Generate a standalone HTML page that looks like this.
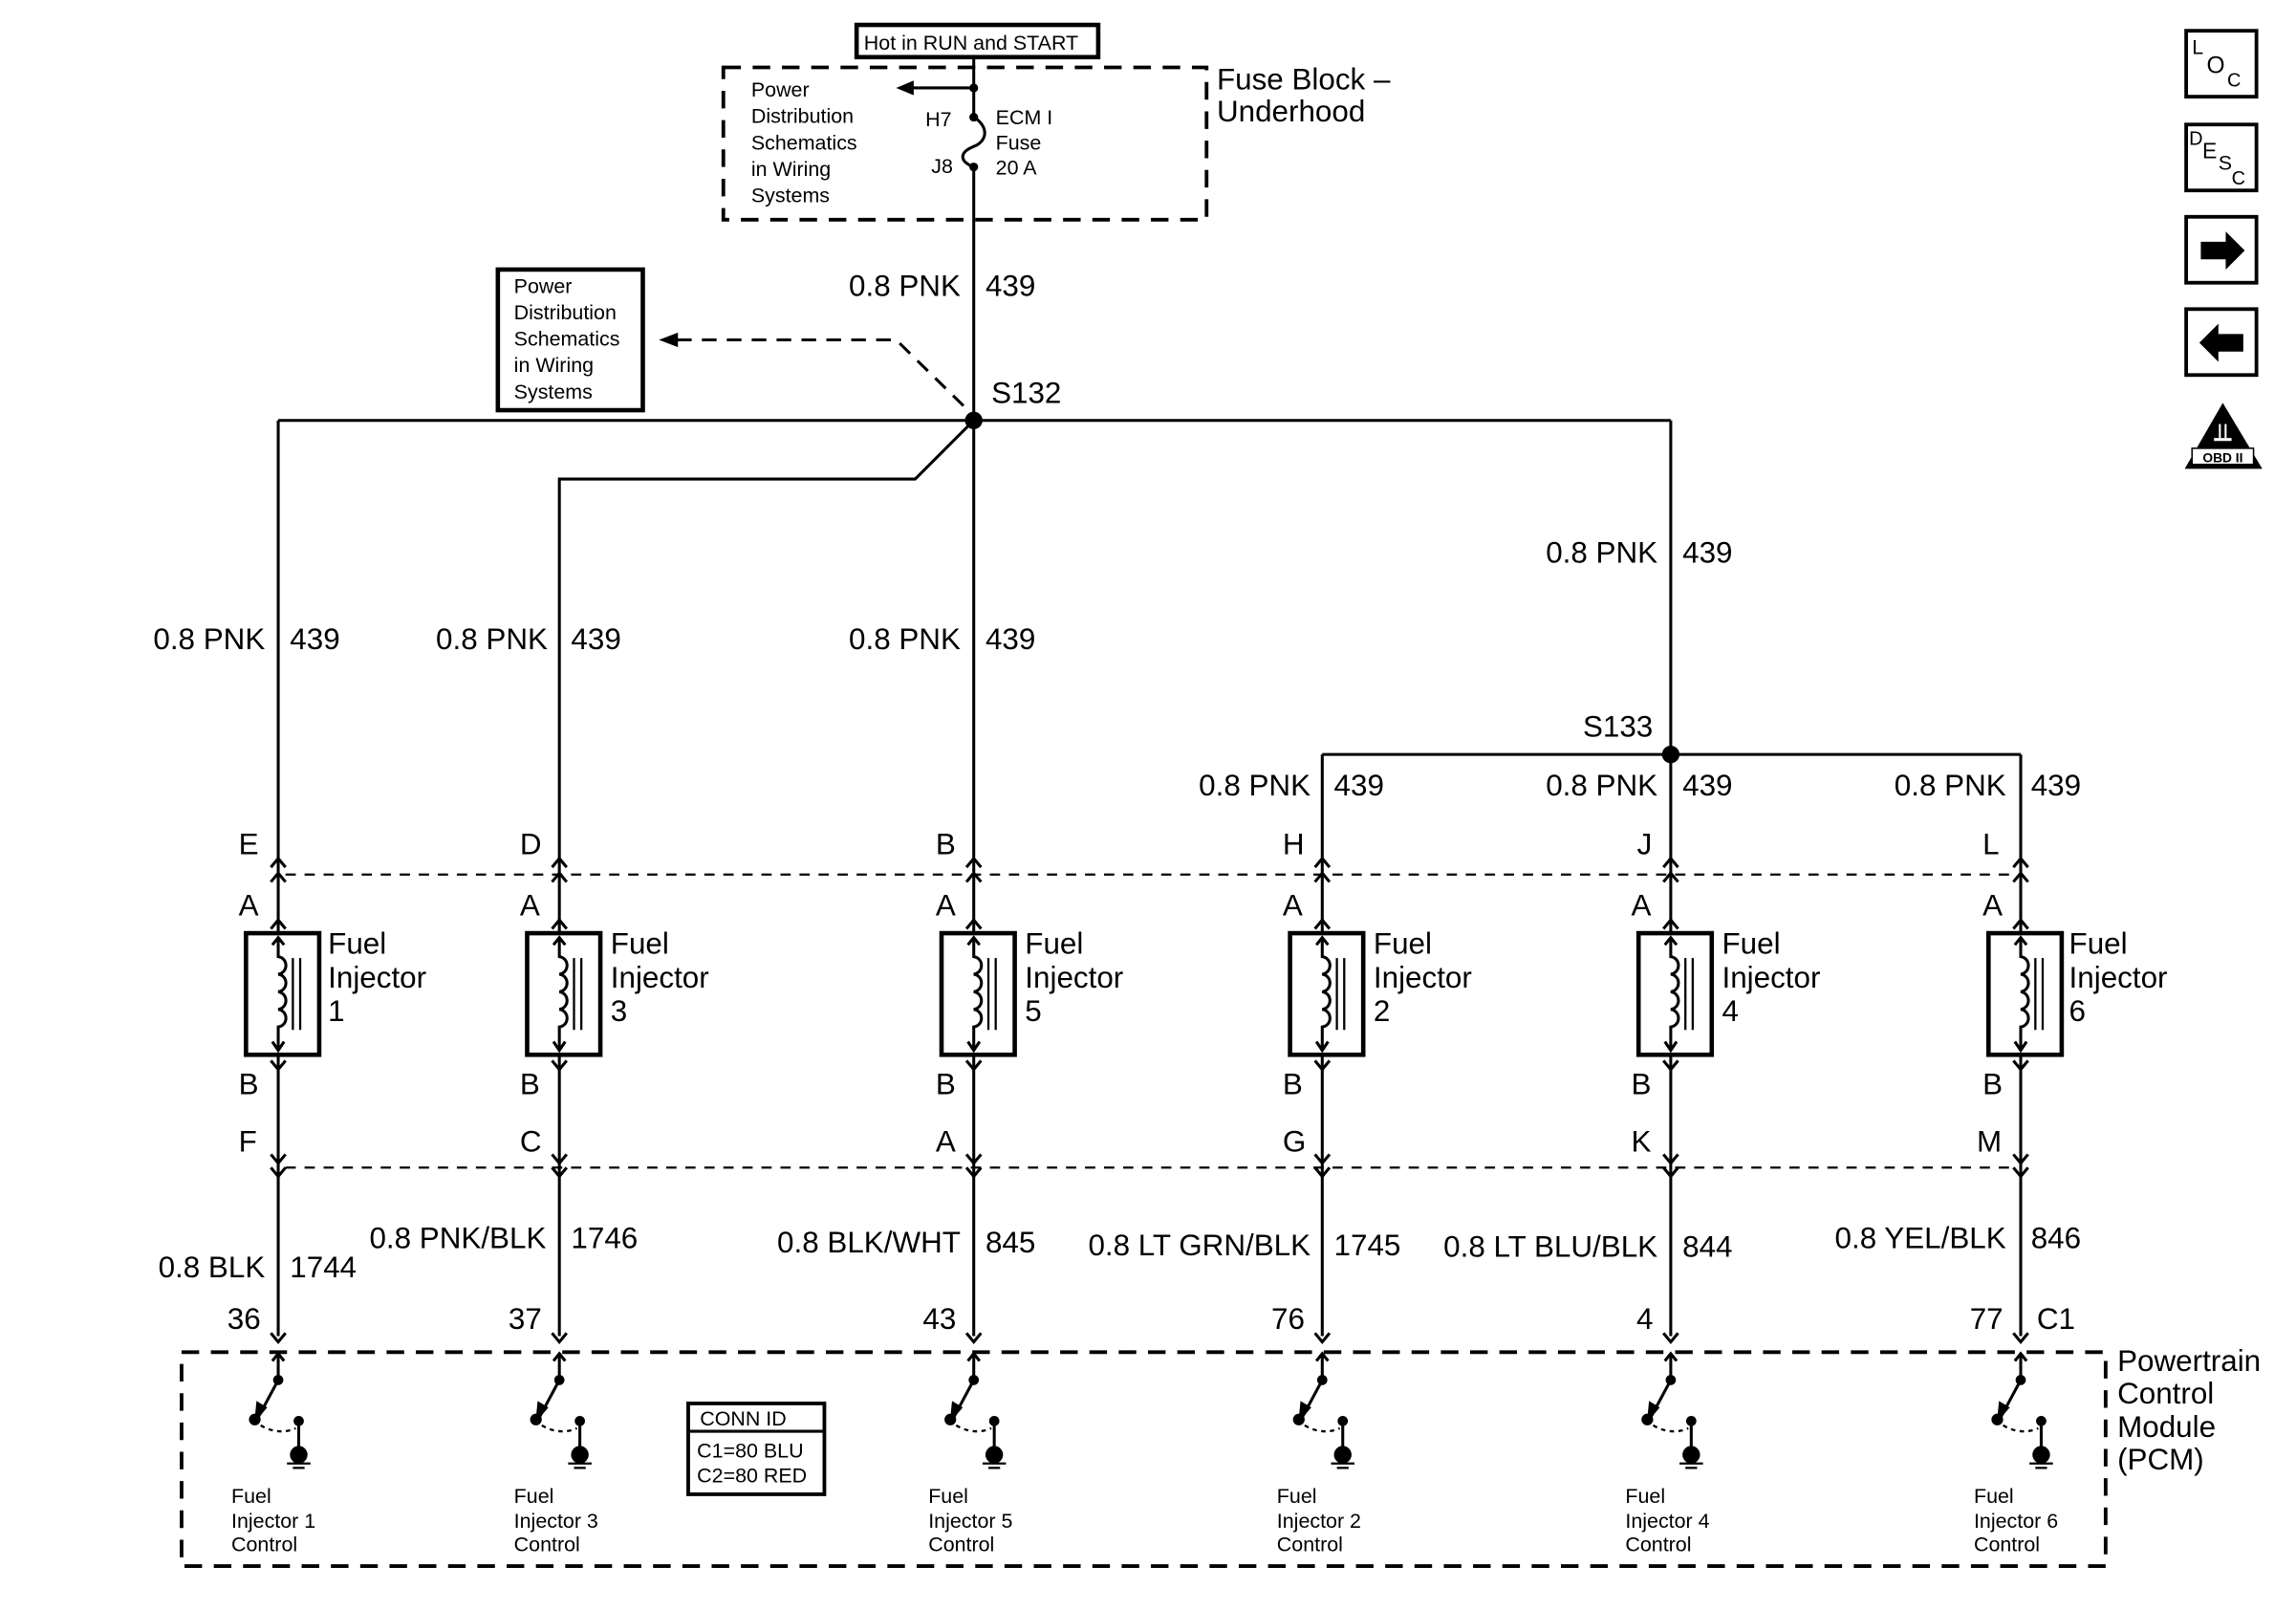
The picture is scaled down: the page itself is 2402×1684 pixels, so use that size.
<!DOCTYPE html>
<html><head><meta charset="utf-8"><style>
html,body{margin:0;padding:0;background:#fff;}
svg{display:block;}
text{font-family:"Liberation Sans",Arial,sans-serif;fill:#000;}
.w{font-size:20.5px;}
.s{font-size:14px;}
</style></head><body>
<svg id="sv" width="2402" height="1684" viewBox="0 0 1568 1099" preserveAspectRatio="none" xmlns="http://www.w3.org/2000/svg">
<rect width="1568" height="1099" fill="#fff"/>
<g id="shapes" stroke="#000" fill="none" stroke-width="2">
<rect x="585" y="17" width="165" height="22" stroke-width="3"/>
<rect x="494" y="46" width="330" height="104" stroke-dasharray="12,8" stroke-width="2.5"/>
<line x1="665" y1="39" x2="665" y2="80"/>
<path d="M665 80 C675 86,675 96,665 100 C655 104,655 110,665 114"/>
<line x1="665" y1="114" x2="665" y2="912"/>
<line x1="665" y1="60" x2="620" y2="60"/>
<rect x="340" y="184" width="99" height="96" stroke-width="3"/>
<path d="M658 277 L612 232 L462 232" stroke-dasharray="10,7"/>
<line x1="190" y1="287" x2="1141" y2="287"/>
<line x1="190" y1="287" x2="190" y2="912"/>
<path d="M665 287 L625 327 L382 327 L382 912"/>
<line x1="1141" y1="287" x2="1141" y2="912"/>
<line x1="903" y1="515" x2="1380" y2="515"/>
<line x1="903" y1="515" x2="903" y2="912"/>
<line x1="1380" y1="515" x2="1380" y2="912"/>
<line x1="195" y1="597" x2="1375" y2="597" stroke-dasharray="7,6" stroke-width="1.5"/>
<line x1="195" y1="797" x2="1375" y2="797" stroke-dasharray="7,6" stroke-width="1.5"/>
<rect x="124" y="923" width="1314" height="146" stroke-dasharray="12,8" stroke-width="2.5"/>
<rect x="470" y="958" width="93" height="62" stroke-width="2.5"/>
<line x1="470" y1="977" x2="563" y2="977"/>
<rect x="1493" y="21" width="48" height="45" stroke-width="2.5"/>
<rect x="1493" y="85" width="48" height="45" stroke-width="2.5"/>
<rect x="1493" y="148" width="48" height="45" stroke-width="2.5"/>
<rect x="1493" y="211" width="48" height="45" stroke-width="2.5"/>
</g>
<g fill="#000">
<polygon points="612,60 624,55 624,65"/>
<circle cx="665" cy="60" r="3"/><circle cx="665" cy="80" r="3"/><circle cx="665" cy="114" r="3"/>
<polygon points="450,232 463,227 463,237"/>
<circle cx="665" cy="287" r="6"/>
<circle cx="1141" cy="515" r="6"/>
<polygon points="1503,165 1520,165 1520,158 1533,171 1520,184 1520,177 1503,177"/>
<polygon points="1532,228 1515,228 1515,221 1502,234 1515,247 1515,240 1532,240"/>
<polygon points="1518,275 1545,320 1492,320"/>
</g>
<rect x="1497" y="306" width="42" height="11" fill="#fff" stroke="#000" stroke-width="1"/>
<text x="1518" y="315.5" text-anchor="middle" style="font-size:9px;font-weight:bold">OBD II</text>
<line x1="1512" y1="300" x2="1524" y2="300" stroke="#fff" stroke-width="2"/>
<text x="1518" y="299" text-anchor="middle" style="font-size:14px;fill:#fff">II</text>
<g id="reps" stroke="#000" fill="none" stroke-width="2"></g>

<text x="590" y="34" style="font-size:14px">Hot in RUN and START</text>
<text x="831" y="61" style="font-size:20.5px">Fuse Block –</text>
<text x="831" y="83" style="font-size:20.5px">Underhood</text>
<g class="s">
<text x="513" y="66">Power</text><text x="513" y="84">Distribution</text><text x="513" y="102">Schematics</text><text x="513" y="120">in Wiring</text><text x="513" y="138">Systems</text>
<text x="632" y="86">H7</text><text x="636" y="118">J8</text>
<text x="680" y="85">ECM I</text><text x="680" y="102">Fuse</text><text x="680" y="119">20 A</text>
<text x="351" y="200">Power</text><text x="351" y="218">Distribution</text><text x="351" y="236">Schematics</text><text x="351" y="254">in Wiring</text><text x="351" y="272">Systems</text>
<text x="478" y="973">CONN ID</text><text x="476" y="995">C1=80 BLU</text><text x="476" y="1012">C2=80 RED</text>
</g>
<g class="w">
<text x="656" y="202" text-anchor="end">0.8 PNK</text><text x="673" y="202">439</text>
<text x="677" y="275">S132</text>
<text x="181" y="443" text-anchor="end">0.8 PNK</text><text x="198" y="443">439</text>
<text x="374" y="443" text-anchor="end">0.8 PNK</text><text x="390" y="443">439</text>
<text x="656" y="443" text-anchor="end">0.8 PNK</text><text x="673" y="443">439</text>
<text x="1132" y="384" text-anchor="end">0.8 PNK</text><text x="1149" y="384">439</text>
<text x="1081" y="503">S133</text>
<text x="895" y="543" text-anchor="end">0.8 PNK</text><text x="911" y="543">439</text>
<text x="1132" y="543" text-anchor="end">0.8 PNK</text><text x="1149" y="543">439</text>
<text x="1370" y="543" text-anchor="end">0.8 PNK</text><text x="1387" y="543">439</text>
<text x="163" y="583">E</text><text x="355" y="583">D</text><text x="639" y="583">B</text><text x="876" y="583">H</text><text x="1118" y="583">J</text><text x="1354" y="583">L</text>
<text x="163" y="625">A</text><text x="355" y="625">A</text><text x="639" y="625">A</text><text x="876" y="625">A</text><text x="1114" y="625">A</text><text x="1354" y="625">A</text>
<text x="163" y="747">B</text><text x="355" y="747">B</text><text x="639" y="747">B</text><text x="876" y="747">B</text><text x="1114" y="747">B</text><text x="1354" y="747">B</text>
<text x="163" y="786">F</text><text x="355" y="786">C</text><text x="639" y="786">A</text><text x="876" y="786">G</text><text x="1114" y="786">K</text><text x="1350" y="786">M</text>
<text x="181" y="872" text-anchor="end">0.8 BLK</text><text x="198" y="872">1744</text>
<text x="373" y="852" text-anchor="end">0.8 PNK/BLK</text><text x="390" y="852">1746</text>
<text x="656" y="855" text-anchor="end">0.8 BLK/WHT</text><text x="673" y="855">845</text>
<text x="895" y="857" text-anchor="end">0.8 LT GRN/BLK</text><text x="911" y="857">1745</text>
<text x="1132" y="858" text-anchor="end">0.8 LT BLU/BLK</text><text x="1149" y="858">844</text>
<text x="1370" y="852" text-anchor="end">0.8 YEL/BLK</text><text x="1387" y="852">846</text>
<text x="178" y="907" text-anchor="end">36</text><text x="370" y="907" text-anchor="end">37</text><text x="653" y="907" text-anchor="end">43</text><text x="891" y="907" text-anchor="end">76</text><text x="1129" y="907" text-anchor="end">4</text><text x="1368" y="907" text-anchor="end">77</text>
<text x="1391" y="907">C1</text>
<text x="1446" y="936">Powertrain</text><text x="1446" y="958">Control</text><text x="1446" y="981">Module</text><text x="1446" y="1003">(PCM)</text>
<text x="224" y="651">Fuel</text><text x="224" y="674">Injector</text><text x="224" y="697">1</text>
<text x="417" y="651">Fuel</text><text x="417" y="674">Injector</text><text x="417" y="697">3</text>
<text x="700" y="651">Fuel</text><text x="700" y="674">Injector</text><text x="700" y="697">5</text>
<text x="938" y="651">Fuel</text><text x="938" y="674">Injector</text><text x="938" y="697">2</text>
<text x="1176" y="651">Fuel</text><text x="1176" y="674">Injector</text><text x="1176" y="697">4</text>
<text x="1413" y="651">Fuel</text><text x="1413" y="674">Injector</text><text x="1413" y="697">6</text>
</g>
<g class="s">
<text x="158" y="1026">Fuel</text><text x="158" y="1043">Injector 1</text><text x="158" y="1059">Control</text>
<text x="351" y="1026">Fuel</text><text x="351" y="1043">Injector 3</text><text x="351" y="1059">Control</text>
<text x="634" y="1026">Fuel</text><text x="634" y="1043">Injector 5</text><text x="634" y="1059">Control</text>
<text x="872" y="1026">Fuel</text><text x="872" y="1043">Injector 2</text><text x="872" y="1059">Control</text>
<text x="1110" y="1026">Fuel</text><text x="1110" y="1043">Injector 4</text><text x="1110" y="1059">Control</text>
<text x="1348" y="1026">Fuel</text><text x="1348" y="1043">Injector 6</text><text x="1348" y="1059">Control</text>
</g>
<text x="1497" y="37" style="font-size:14px">L</text><text x="1507" y="50" style="font-size:16px">O</text><text x="1521" y="59" style="font-size:13px">C</text>
<text x="1495" y="99" style="font-size:13px">D</text><text x="1504" y="108" style="font-size:15px">E</text><text x="1515" y="116" style="font-size:14px">S</text><text x="1524" y="126" style="font-size:13px">C</text>
</svg>
<script>
(function(){
var g=document.getElementById('reps'),h='';
[190,382,665,903,1141,1380].forEach(function(c){
 h+='<path d="M'+(c-5)+' 592 L'+c+' 586 L'+(c+5)+' 592"/>';
 h+='<path d="M'+(c-5)+' 602 L'+c+' 596 L'+(c+5)+' 602"/>';
 h+='<path d="M'+(c-5)+' 634 L'+c+' 628 L'+(c+5)+' 634"/>';
 h+='<path d="M'+(c-5)+' 724 L'+c+' 730 L'+(c+5)+' 724"/>';
 h+='<path d="M'+(c-5)+' 788 L'+c+' 794 L'+(c+5)+' 788"/>';
 h+='<path d="M'+(c-5)+' 797 L'+c+' 803 L'+(c+5)+' 797"/>';
 h+='<path d="M'+(c-5)+' 910 L'+c+' 916 L'+(c+5)+' 910"/>';
 h+='<rect x="'+(c-22)+'" y="637" width="50" height="83" fill="#fff" stroke-width="3"/>';
 h+='<path d="M'+(c-4)+' 645 L'+(c)+' 640 L'+(c+4)+' 645 M'+c+' 640 L'+c+' 653 c7,1 7,11 0,12 c7,1 7,11 0,12 c7,1 7,11 0,12 c7,1 7,11 0,12 L'+c+' 717 M'+(c-4)+' 711 L'+c+' 717 L'+(c+4)+' 711"/>';
 h+='<line x1="'+(c+10)+'" y1="654" x2="'+(c+10)+'" y2="703" stroke-width="1.5"/><line x1="'+(c+15)+'" y1="654" x2="'+(c+15)+'" y2="703" stroke-width="1.5"/>';
 h+='<path d="M'+(c-4)+' 929 L'+c+' 924 L'+(c+4)+' 929 M'+c+' 924 L'+c+' 942 L'+(c-15)+' 970"/>';
 h+='<polygon points="'+(c-15)+',968 '+(c-14)+',958 '+(c-9)+',961" fill="#000"/>';
 h+='<circle cx="'+c+'" cy="942" r="2.5" fill="#000"/><circle cx="'+(c-16)+'" cy="969" r="3" fill="#000"/><circle cx="'+(c+14)+'" cy="970" r="2.5" fill="#000"/>';
 h+='<path d="M'+(c-12)+' 973 Q'+c+' 980 '+(c+12)+' 975" stroke-dasharray="3,3" stroke-width="1.5"/>';
 h+='<line x1="'+(c+14)+'" y1="970" x2="'+(c+14)+'" y2="990"/><circle cx="'+(c+14)+'" cy="993" r="5" fill="#000"/>';
 h+='<line x1="'+(c+6)+'" y1="999" x2="'+(c+22)+'" y2="999" stroke-width="1.5"/><line x1="'+(c+10)+'" y1="1002" x2="'+(c+18)+'" y2="1002" stroke-width="1.5"/>';
});
g.innerHTML=h;
})();
</script>
</body></html>
